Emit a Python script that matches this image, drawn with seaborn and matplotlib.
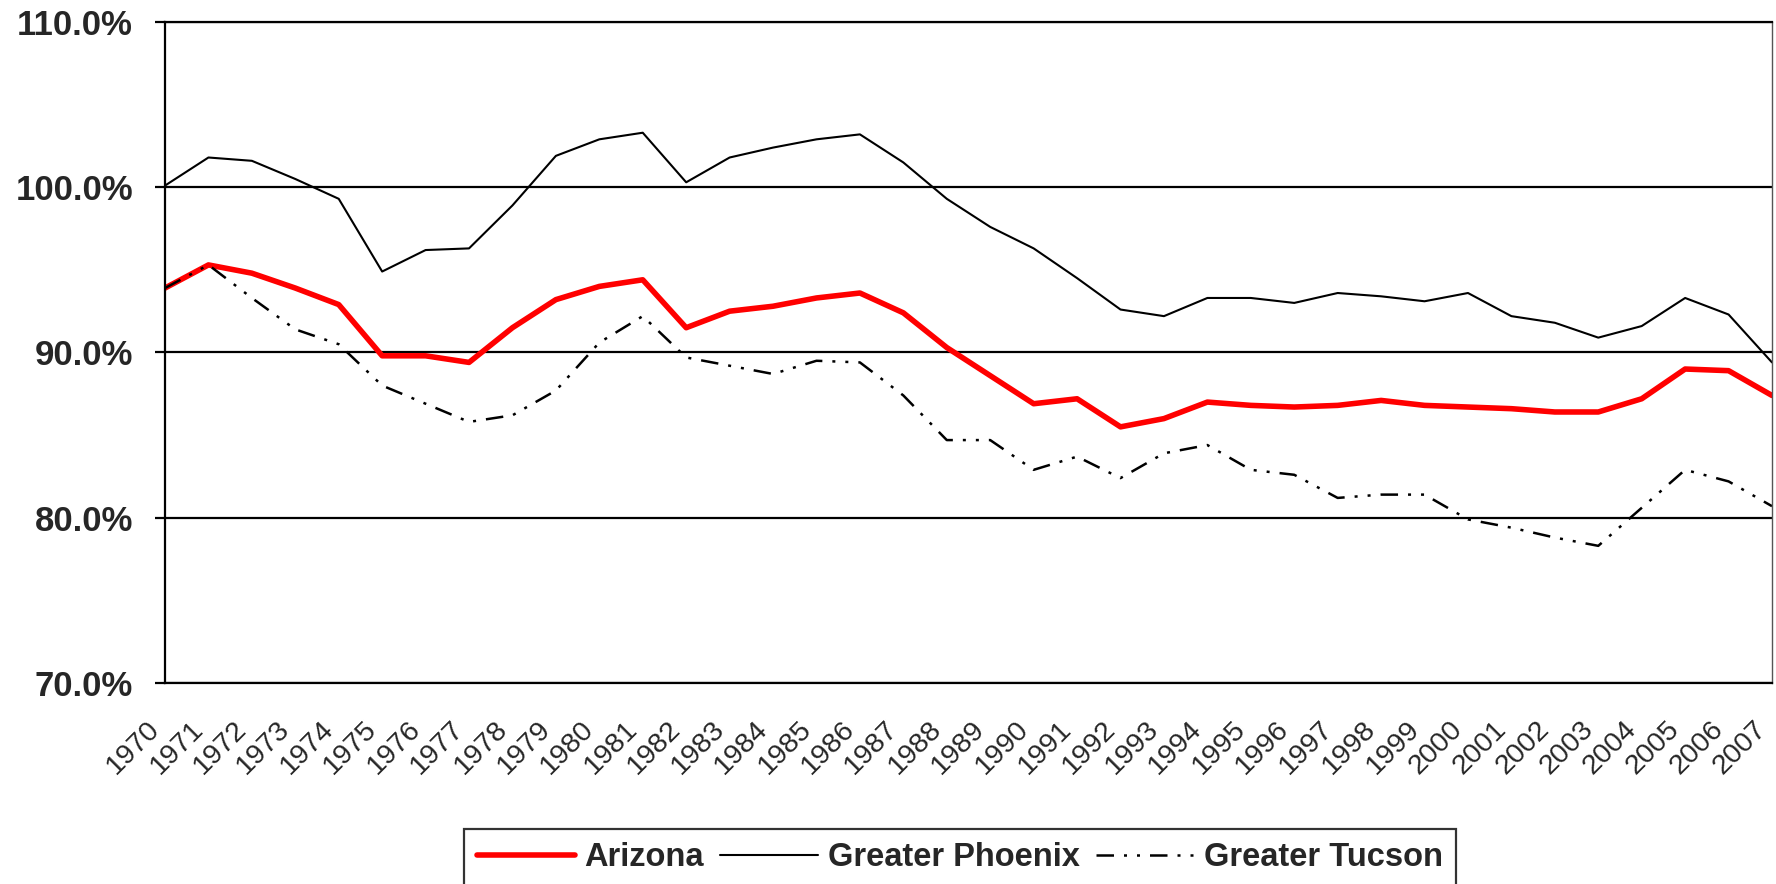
import numpy as np
import pandas as pd
import matplotlib
matplotlib.use("Agg")
import matplotlib.pyplot as plt
import seaborn as sns
from matplotlib.ticker import FuncFormatter

years = list(range(1970, 2008))
arizona = [93.9, 95.3, 94.8, 93.9, 92.9, 89.8, 89.8, 89.4, 91.5, 93.2,
           94.0, 94.4, 91.5, 92.5, 92.8, 93.3, 93.6, 92.4, 90.3, 88.6,
           86.9, 87.2, 85.5, 86.0, 87.0, 86.8, 86.7, 86.8, 87.1, 86.8,
           86.7, 86.6, 86.4, 86.4, 87.2, 89.0, 88.9, 87.4]
phoenix = [100.1, 101.8, 101.6, 100.5, 99.3, 94.9, 96.2, 96.3, 98.9, 101.9,
           102.9, 103.3, 100.3, 101.8, 102.4, 102.9, 103.2, 101.5, 99.3, 97.6,
           96.3, 94.5, 92.6, 92.2, 93.3, 93.3, 93.0, 93.6, 93.4, 93.1,
           93.6, 92.2, 91.8, 90.9, 91.6, 93.3, 92.3, 89.4]
tucson = [93.9, 95.3, 93.3, 91.4, 90.5, 88.0, 86.9, 85.8, 86.2, 87.7,
          90.6, 92.2, 89.7, 89.2, 88.7, 89.5, 89.4, 87.4, 84.7, 84.7,
          82.9, 83.7, 82.4, 83.9, 84.4, 82.9, 82.6, 81.2, 81.4, 81.4,
          79.9, 79.4, 78.8, 78.3, 80.6, 82.9, 82.2, 80.7]
series_names = ["Arizona", "Greater Phoenix", "Greater Tucson"]
y_ticks = [70, 80, 90, 100, 110]

sns.set_style("white")
plt.rcParams['font.family'] = ['Liberation Sans', 'DejaVu Sans']

W, H = 1776, 884
fig = plt.figure(figsize=(W / 100, H / 100), dpi=100)
left, right, top, bottom = 165, 1772, 22, 683
ax = fig.add_axes([left / W, 1 - bottom / H, (right - left) / W, (bottom - top) / H])

df = pd.DataFrame({
    "Year": years * 3,
    "Value": arizona + phoenix + tucson,
    "Series": np.repeat(series_names, len(years)),
})

styles = {
    "Arizona": dict(color="#ff0000", linewidth=4.0, linestyle="-"),
    "Greater Phoenix": dict(color="black", linewidth=1.5, linestyle="-"),
    "Greater Tucson": dict(color="black", linewidth=1.8, linestyle=(0, (7, 4, 1.2, 4, 1.2, 4))),
}
for name in series_names:
    sub = df[df["Series"] == name]
    sns.lineplot(data=sub, x="Year", y="Value", ax=ax, label=name, **styles[name])

ax.set_xlim(1970, 2007)
ax.set_ylim(70, 110)
ax.set_yticks(y_ticks)
ax.yaxis.set_major_formatter(FuncFormatter(lambda v, p: f"{v:.1f}%"))
ax.set_xticks(years)
ax.set_xticklabels([str(y) for y in years], rotation=45, ha="right", va="top",
                   fontsize=20.5)
ax.set_xlabel("")
ax.set_ylabel("")

ax.yaxis.grid(True, color="black", linewidth=1.6)
ax.xaxis.grid(False)
for s in ax.spines.values():
    s.set_color("black")
    s.set_linewidth(1.6)
ax.spines["right"].set_linewidth(1.0)
ax.spines["right"].set_color("#555555")

ax.tick_params(axis="y", which="major", direction="out", length=7, width=1.6,
               color="black", labelsize=25, pad=16, left=True)
ax.tick_params(axis="x", which="major", length=0, pad=24)
for lbl in ax.get_yticklabels():
    lbl.set_fontweight("bold")

if ax.legend_:
    ax.legend_.remove()
handles, labels = ax.get_legend_handles_labels()
leg = fig.legend(handles, labels, loc="upper center", bbox_to_anchor=(960 / W, 1 - 829 / H),
                 ncol=3, frameon=True, fancybox=False, edgecolor="black",
                 prop={"weight": "bold", "size": 23.5}, handlelength=3.0,
                 handletextpad=0.3, columnspacing=0.5, borderpad=0.4, borderaxespad=0)
leg.get_frame().set_linewidth(1.6)

fig.savefig("out.png", dpi=100, facecolor="white")
